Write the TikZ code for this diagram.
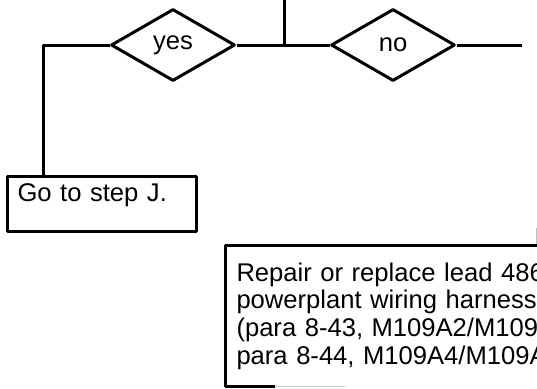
\documentclass[tikz,border=0pt]{standalone}
\usepackage{fontspec}
\setmainfont{Liberation Sans}
\usetikzlibrary{shapes.geometric, positioning, calc}

\tikzset{
  linie/.style={line width=3pt},
  raute/.style={diamond, draw, line width=3pt, inner sep=0pt, aspect=1.7,
    minimum width=124pt, minimum height=72pt},
  kasten/.style={rectangle, line width=3pt, align=left, inner xsep=10pt},
}

\begin{document}
\begin{tikzpicture}[x=1pt, y=-1pt, line join=round, font=\fontsize{25.6}{27.7}\selectfont]
    \useasboundingbox (0,0) rectangle (537,388);
    \clip (0,0) rectangle (537,388);
    % Entscheidungen
    \node[raute] (yes) at (173,45) {yes};
    \node[raute] (no) at (393,45) {no};
    % Hilfspunkte
    \coordinate (top) at (284,0);
    \coordinate (junc) at (284,45);
    \coordinate (corner) at (43,45);
    \coordinate (noEnd) at (522,45);
    \coordinate (noDown) at (536,228);
    % Kaesten
    \node[kasten, draw, anchor=north west, text width=169pt, minimum height=55pt,
      inner ysep=0pt, text depth=23.7pt] (stepJ) at (6,175) {Go to step J.};
    \node[kasten, anchor=north west, text width=380pt, inner ysep=16pt] (repair) at (225,245)
      {Repair or replace lead 486\\ powerplant wiring harness\\
       (para 8-43, M109A2/M109A\\ para 8-44, M109A4/M109A};
    % Verbindungen
    \draw[linie] (top) -- (junc);
    \draw[linie] (yes.east) -- (no.west);
    \draw[linie] (yes.west) -- (corner) -- (corner |- stepJ.north);
    \draw[linie] (no.east) -- (noEnd);
    \draw[gray!50, line width=1pt] (noDown) -- (noDown |- repair.north);
    % Rahmen (unten nur teilweise)
    \draw[linie] ($(repair.south west)+(50,0)$) -- (repair.south west)
      -- (repair.north west) -- (repair.north east);
    \draw[gray!40, line width=1pt] ($(repair.south west)+(50,0)$) -- ($(repair.south west)+(120,0)$);
  \end{tikzpicture}
\end{document}
